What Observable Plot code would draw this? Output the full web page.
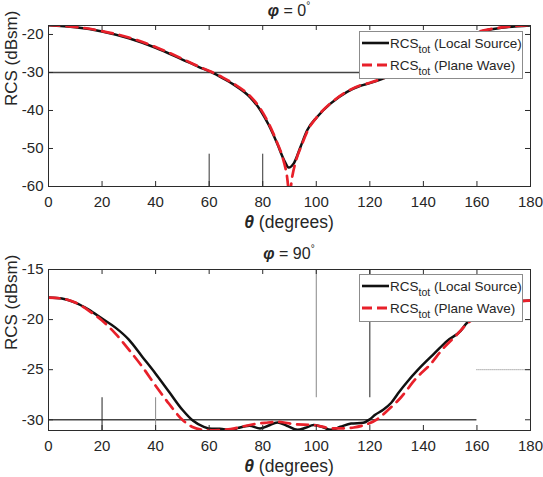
<!DOCTYPE html>
<html>
<head>
<meta charset="utf-8">
<script src="https://cdn.jsdelivr.net/npm/d3@7"></script>
<script src="https://cdn.jsdelivr.net/npm/@observablehq/plot@0.6"></script>
<style>
  body { margin: 0; background: #fff; }
  #fig { position: relative; width: 543px; height: 477px; font-family: "Liberation Sans", Arial, Helvetica, sans-serif; color: #262626; overflow: hidden; }
  .panel { position: absolute; left: 0; }
  .title { position: absolute; left: 48px; width: 482px; text-align: center; font-size: 16px; line-height: 1; white-space: nowrap; }
  .xlabel { position: absolute; left: 48px; width: 482px; text-align: center; font-size: 17.5px; line-height: 1; white-space: nowrap; }
  .sup { font-size: 10px; position: relative; top: -7px; }
  .legend { position: absolute; left: 359px; width: 162px; height: 46px; border: 1px solid #8c8c8c; background: #fff; font-size: 13.5px; }
  .entry { position: absolute; left: 2px; height: 20px; display: flex; align-items: center; white-space: nowrap; }
  .entry svg { margin-right: 1px; }
  .sub { font-size: 10.5px; position: relative; top: 5px; }
</style>
</head>
<body>
<div id="fig"></div>
<script>
// ---------- data ----------
const xTicks = [0, 20, 40, 60, 80, 100, 120, 140, 160, 180];
const yTicks0 = [-60, -50, -40, -30, -20];
const yTicks90 = [-30, -25, -20, -15];
const yDomain0 = [-60, -17.64];
const yDomain90 = [-31.07, -15];

const seriesNames = ["Local Source", "Plane Wave"];
const titles = ["0", "90"];

// phi = 0
const theta0Local = [0, 10, 20, 30, 40, 50, 56, 61, 65, 69.2, 75.4, 79.2, 82.3, 85.4, 88, 89.7, 91.6, 94.1, 96.6, 100.3, 105.3, 111.5, 116.5, 120, 125, 130, 140, 150, 160.6, 165, 171, 180];
const rcs0Local   = [-17.6, -18.1, -19.2, -21.0, -23.5, -26.6, -28.5, -30.0, -31.5, -33.2, -36.6, -40.0, -43.9, -48.7, -53.1, -55.0, -53.9, -49.6, -45.2, -41.7, -38.2, -35.1, -33.5, -32.8, -31.6, -30.2, -27.3, -23.5, -19.4, -18.7, -18.1, -17.6];
const theta0Plane = [0, 10, 20, 30, 40, 50, 56, 61, 65, 69.2, 75.4, 79.2, 82.3, 85.4, 87.5, 89, 90, 91, 92.5, 94.5, 97, 100.5, 105.5, 111.5, 116.5, 120, 125, 130, 140, 150, 160.6, 165, 171, 180];
const rcs0Plane   = [-17.5, -18.0, -19.1, -20.8, -23.3, -26.4, -28.4, -29.9, -31.3, -33.0, -36.3, -39.6, -43.5, -48.5, -52.5, -57.0, -62.0, -57.5, -53.0, -49.2, -45.0, -41.5, -38.0, -35.0, -33.4, -32.7, -31.5, -30.1, -27.2, -23.4, -19.3, -18.6, -18.0, -17.5];

// phi = 90
const theta90Local = [0, 5, 10, 15, 20, 25, 30, 35, 40, 45, 50, 54, 58, 61, 64, 68, 71, 75, 79, 82, 85.5, 89, 93, 96, 99, 102, 105.5, 109, 113, 117.5, 120, 122, 125, 128, 131, 134, 138, 144, 149, 154, 156, 160, 165, 170, 175, 180];
const rcs90Local   = [-17.8, -17.9, -18.3, -19.0, -19.9, -20.8, -22.0, -23.7, -25.4, -27.2, -29.0, -30.1, -30.7, -30.9, -30.9, -31.05, -30.8, -30.6, -30.86, -30.6, -30.27, -30.6, -31.0, -30.8, -30.53, -30.7, -31.0, -30.7, -30.37, -30.3, -29.95, -29.5, -29.0, -28.3, -27.2, -26.2, -25.0, -23.4, -22.1, -21.1, -20.4, -19.7, -19.0, -18.5, -18.2, -18.1];
const theta90Plane = [0, 5, 10, 15, 20, 25, 30, 35, 40, 45, 50, 54, 58, 62, 68, 72, 76.5, 81, 85.5, 91.5, 99, 106.5, 110, 114, 119, 123, 126.5, 131.5, 137.5, 142.5, 147, 152.5, 156, 160, 165, 170, 175, 180];
const rcs90Plane   = [-17.8, -17.9, -18.3, -19.1, -20.1, -21.4, -23.0, -24.7, -26.6, -28.4, -30.0, -30.75, -31.0, -31.05, -30.93, -30.7, -30.45, -30.3, -30.2, -30.43, -30.53, -30.86, -30.85, -30.77, -30.43, -29.9, -29.1, -27.8, -25.8, -24.5, -23.0, -21.5, -20.5, -19.7, -19.0, -18.5, -18.2, -18.1];

// stray reference lines visible in the reference figure
const refH0 = [{y: -30, x1: 0, x2: 120}];
const refV0 = [{x: 60, y1: -60, y2: -51.5}, {x: 80, y1: -60, y2: -51.5}];
const refH90 = [{y: -30, x1: 0, x2: 160}];
const refH90dotted = [{y: -25, x1: 160, x2: 180}];
const refV90dark = [{x: 120, y1: -27.8, y2: -15}, {x: 20, y1: -31.07, y2: -27.8}];
const refV90light = [{x: 100, y1: -27.8, y2: -15}, {x: 40, y1: -31.07, y2: -27.8}];

// ---------- drawing ----------
const W = 543, ML = 48, MR = 13;
const axisColor = "#2b2b2b";
const blackColor = "#111111";
const redColor = "#e8202a";

function rows(xs, ys) { return xs.map((x, i) => ({x, y: ys[i]})); }

function panel({height, mt, mb, yDomain, yTicks, local, plane, extra}) {
  const innerH = height - mt - mb;
  const innerW = W - ML - MR;
  const tk = 5;
  return Plot.plot({
    width: W, height,
    marginLeft: ML, marginRight: MR, marginTop: mt, marginBottom: mb,
    style: {fontFamily: '"Liberation Sans", Arial, Helvetica, sans-serif', fontSize: "15px", color: "#262626", background: "white", overflow: "visible"},
    x: {domain: [0, 180]},
    y: {domain: yDomain},
    marks: [
      ...extra,
      Plot.line(local, {x: "x", y: "y", stroke: blackColor, strokeWidth: 2.5, curve: "monotone-x", clip: true}),
      Plot.line(plane, {x: "x", y: "y", stroke: redColor, strokeWidth: 2.7, strokeDasharray: "11,7", curve: "monotone-x", clip: true}),
      Plot.frame({stroke: axisColor, strokeWidth: 1}),
      Plot.tickX(xTicks, {x: d => d, insetTop: innerH - tk, stroke: axisColor}),
      Plot.tickX(xTicks, {x: d => d, insetBottom: innerH - tk, stroke: axisColor}),
      Plot.tickY(yTicks, {y: d => d, insetLeft: innerW - tk, stroke: axisColor}),
      Plot.tickY(yTicks, {y: d => d, insetRight: innerW - tk, stroke: axisColor}),
      Plot.axisX({ticks: xTicks, tickSize: 0, tickPadding: 10, tickFormat: d => String(d), label: null}),
      Plot.axisY({ticks: yTicks, tickSize: 0, tickPadding: 5, tickFormat: d => String(d), label: null}),
      Plot.text(["RCS (dBsm)"], {text: d => d, frameAnchor: "left", rotate: -90, dx: -37, fontSize: 17, fill: "#262626"})
    ]
  });
}

const fig = document.getElementById("fig");

const topPanel = panel({
  height: 240, mt: 25, mb: 54,
  yDomain: yDomain0, yTicks: yTicks0,
  local: rows(theta0Local, rcs0Local), plane: rows(theta0Plane, rcs0Plane),
  extra: [
    Plot.ruleY(refH0, {y: "y", x1: "x1", x2: "x2", stroke: "#444", strokeWidth: 1.3}),
    Plot.ruleX(refV0, {x: "x", y1: "y1", y2: "y2", stroke: "#333", strokeWidth: 1})
  ]
});
topPanel.classList.add("panel");
topPanel.style.top = "0px";
fig.appendChild(topPanel);

const bottomPanel = panel({
  height: 237, mt: 29, mb: 47,
  yDomain: yDomain90, yTicks: yTicks90,
  local: rows(theta90Local, rcs90Local), plane: rows(theta90Plane, rcs90Plane),
  extra: [
    Plot.ruleY(refH90, {y: "y", x1: "x1", x2: "x2", stroke: "#444", strokeWidth: 1.5}),
    Plot.ruleY(refH90dotted, {y: "y", x1: "x1", x2: "x2", stroke: "#777", strokeWidth: 1, strokeDasharray: "1,1"}),
    Plot.ruleX(refV90dark, {x: "x", y1: "y1", y2: "y2", stroke: "#222", strokeWidth: 1}),
    Plot.ruleX(refV90light, {x: "x", y1: "y1", y2: "y2", stroke: "#888", strokeWidth: 1})
  ]
});
bottomPanel.classList.add("panel");
bottomPanel.style.top = "240px";
fig.appendChild(bottomPanel);

// titles, x labels, legends
const titleTops = [3, 246];
const xlabelTops = [214, 458];
const legendTops = [31, 274];

titles.forEach((t, i) => {
  const d = document.createElement("div");
  d.className = "title";
  d.style.top = titleTops[i] + "px";
  d.innerHTML = `<b><i>φ</i></b> = ${t}<span class="sup">°</span>`;
  fig.appendChild(d);

  const xl = document.createElement("div");
  xl.className = "xlabel";
  xl.style.top = xlabelTops[i] + "px";
  xl.innerHTML = `<b><i>θ</i></b> (degrees)`;
  fig.appendChild(xl);

  const lg = document.createElement("div");
  lg.className = "legend";
  lg.style.top = legendTops[i] + "px";
  const entryTops = [1, 23];
  seriesNames.forEach((name, j) => {
    const e = document.createElement("div");
    e.className = "entry";
    e.style.top = entryTops[j] + "px";
    const dash = j === 0 ? "" : `stroke-dasharray="10,5"`;
    const col = j === 0 ? blackColor : redColor;
    e.innerHTML = `<svg width="27" height="10"><line x1="0" y1="5" x2="27" y2="5" stroke="${col}" stroke-width="${j === 0 ? 2.6 : 2.8}" ${dash}/></svg><span>RCS<span class="sub">tot</span> (${name})</span>`;
    lg.appendChild(e);
  });
  fig.appendChild(lg);
});
</script>
</body>
</html>
